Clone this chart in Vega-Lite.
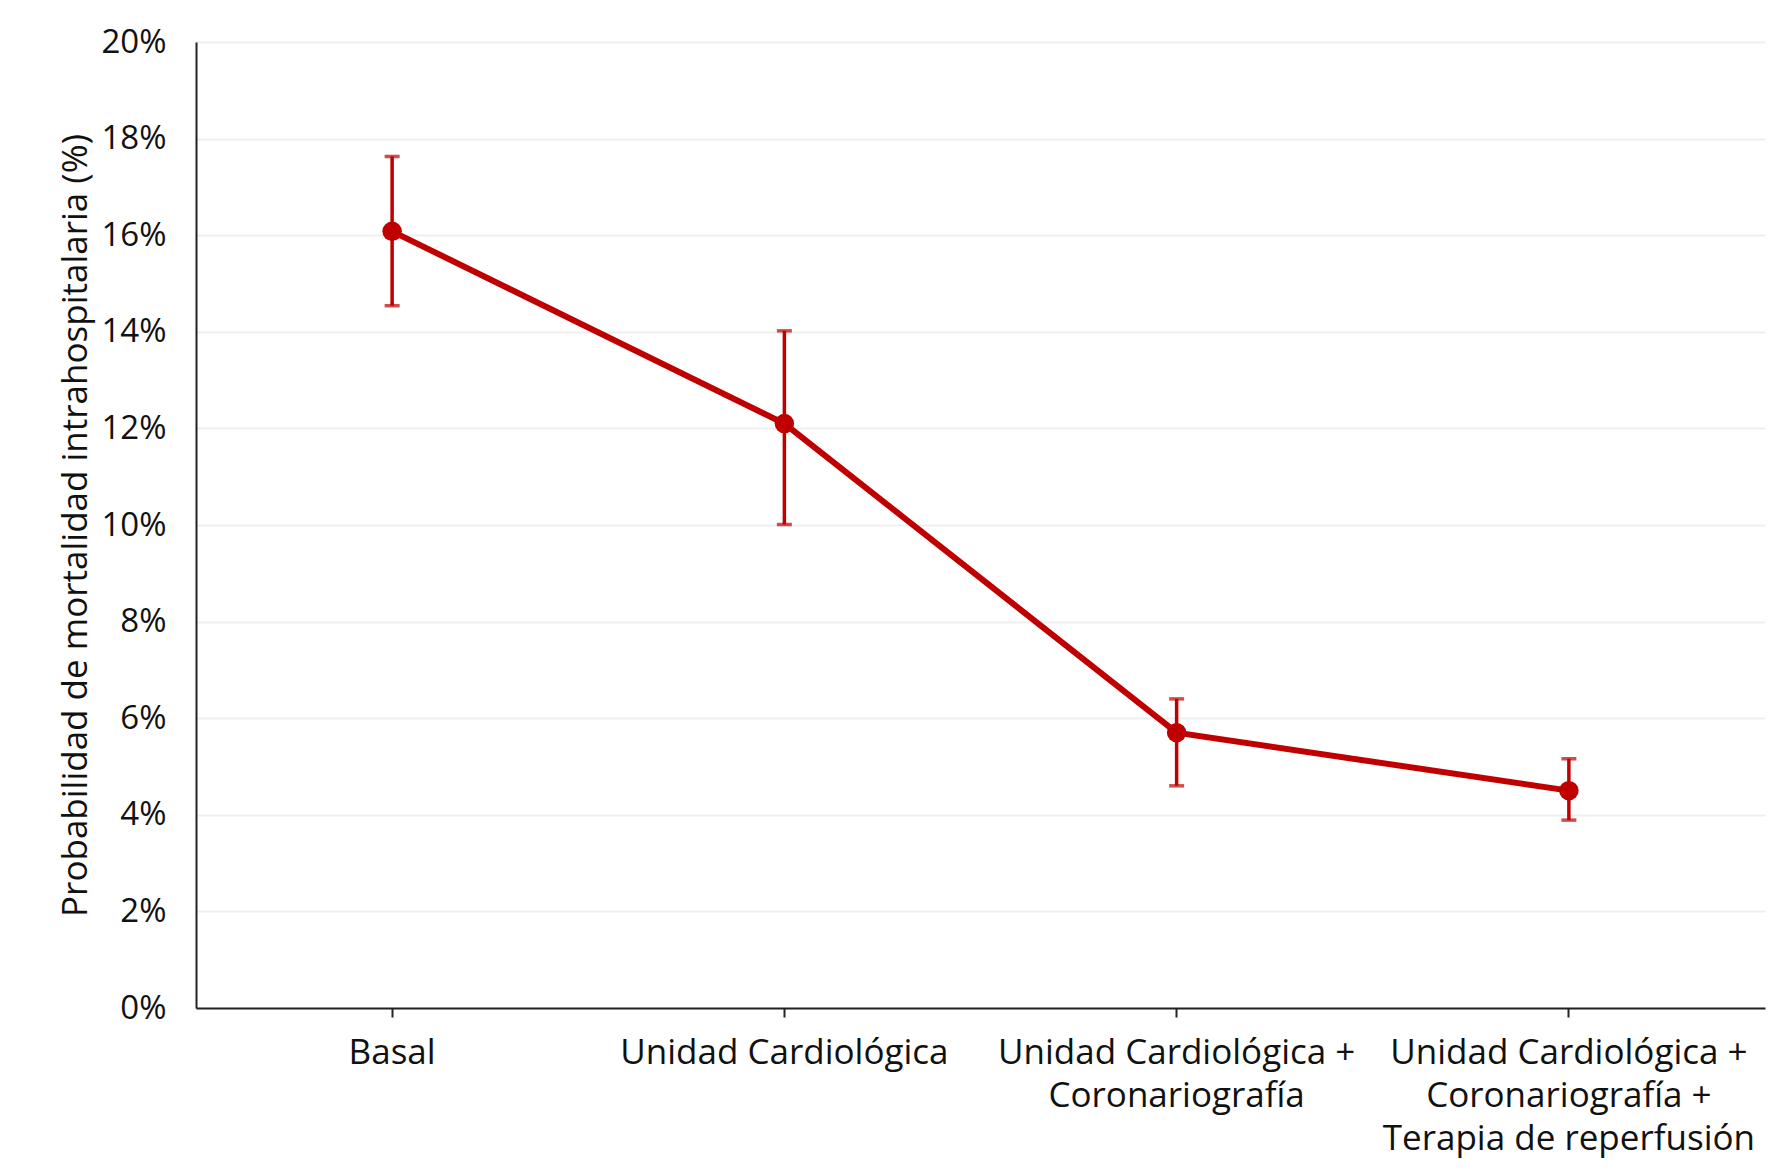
{
  "$schema": "https://vega.github.io/schema/vega-lite/v6.json",
  "autosize": {"type": "none"},
  "width": 1569,
  "height": 966,
  "padding": {"left": 196, "top": 42, "right": 11, "bottom": 161},
  "background": "white",
  "config": {
    "font": "Open Sans",
    "view": {"stroke": null},
    "axis": {"labelFont": "Open Sans", "titleFont": "Open Sans", "labelColor": "#111111", "titleColor": "#111111"}
  },
  "data": {
    "values": [
      {"grupo": "Basal", "p": 16.08, "lo": 14.54, "hi": 17.63},
      {"grupo": "Unidad Cardiológica", "p": 12.10, "lo": 10.01, "hi": 14.02},
      {"grupo": "Unidad Cardiológica + Coronariografía", "p": 5.70, "lo": 4.60, "hi": 6.40},
      {"grupo": "Unidad Cardiológica + Coronariografía + Terapia de reperfusión", "p": 4.50, "lo": 3.89, "hi": 5.16}
    ]
  },
  "encoding": {
    "x": {
      "field": "grupo",
      "type": "nominal",
      "sort": null,
      "scale": {"type": "band", "paddingInner": 0, "paddingOuter": 0},
      "axis": {
        "title": null,
        "labelAngle": 0,
        "labelFontSize": 35,
        "labelLineHeight": 43,
        "labelPadding": 18,
        "labelLimit": 0,
        "labelExpr": "split(replace(datum.label, / \\+ /g, ' +|'), '|')",
        "tickSize": 9,
        "tickWidth": 2,
        "tickColor": "#222222",
        "domainColor": "#222222",
        "domainWidth": 2,
        "grid": false,
        "labelBaseline": "top"
      }
    }
  },
  "layer": [
    {
      "mark": {"type": "rule", "color": "#c00000", "strokeWidth": 3.5},
      "encoding": {
        "y": {
          "field": "lo",
          "type": "quantitative",
          "scale": {"domain": [0, 20]},
          "axis": {
            "title": "Probabilidad de mortalidad intrahospitalaria (%)",
            "titleFontSize": 35,
            "titleFontWeight": "normal",
            "titlePadding": 7,
            "labelFontSize": 33,
            "labelPadding": 30,
            "labelExpr": "datum.value + '%'",
            "values": [0, 2, 4, 6, 8, 10, 12, 14, 16, 18, 20],
            "ticks": false,
            "domainColor": "#222222",
            "domainWidth": 2,
            "gridColor": "#efefef",
            "gridWidth": 2
          }
        },
        "y2": {"field": "hi"}
      }
    },
    {
      "mark": {"type": "tick", "color": "#c00000", "thickness": 3.5, "size": 15, "orient": "horizontal"},
      "encoding": {"y": {"field": "lo", "type": "quantitative"}}
    },
    {
      "mark": {"type": "tick", "color": "#c00000", "thickness": 3.5, "size": 15, "orient": "horizontal"},
      "encoding": {"y": {"field": "hi", "type": "quantitative"}}
    },
    {
      "mark": {"type": "line", "color": "#c00000", "strokeWidth": 6},
      "encoding": {"y": {"field": "p", "type": "quantitative"}}
    },
    {
      "mark": {"type": "point", "filled": true, "color": "#c00000", "size": 380, "opacity": 1},
      "encoding": {"y": {"field": "p", "type": "quantitative"}}
    }
  ]
}
